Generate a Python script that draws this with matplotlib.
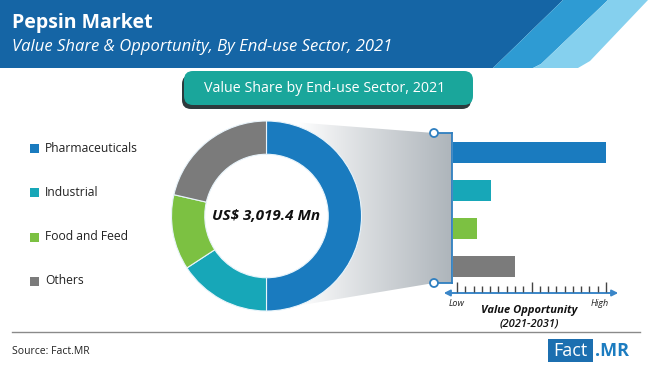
import numpy as np
import matplotlib
matplotlib.use("Agg")
import matplotlib.pyplot as plt
from matplotlib.patches import Polygon, Rectangle, Circle, FancyBboxPatch, FancyArrowPatch

# ---------------- data ----------------
categories = ["Pharmaceuticals", "Industrial", "Food and Feed", "Others"]
share_values = [50.0, 15.8, 12.8, 21.4]          # value share (%) 2021
opportunity_values = [10.0, 2.5, 1.6, 4.1]        # relative value opportunity (low..high scale 0-10)
colors = ["#1a7bbf", "#17a7b8", "#7cc142", "#7b7b7b"]
title = "Pepsin Market"
subtitle = "Value Share & Opportunity, By End-use Sector, 2021"
banner = "Value Share by End-use Sector, 2021"
center_label = "US$ 3,019.4 Mn"
source = "Source: Fact.MR"

W, H = 650, 366
fig = plt.figure(figsize=(6.5, 3.66), dpi=100)
fig.patch.set_facecolor("white")
FONT = "Open Sans"

# overlay axes in pixel coordinates
ax = fig.add_axes([0, 0, 1, 1])
ax.set_xlim(0, W)
ax.set_ylim(H, 0)
ax.set_autoscale_on(False)
ax.axis("off")

# header
ax.add_patch(Polygon([(0, 0), (563, 0), (493, 68), (0, 68)], closed=True, fc="#1565a5", ec="none"))
ax.add_patch(Polygon([(563, 0), (608, 0), (541, 64), (533, 68), (493, 68)], closed=True, fc="#2e9bd3", ec="none"))
ax.add_patch(Polygon([(608, 0), (648, 0), (590, 61), (578, 68), (533, 68), (541, 64)], closed=True, fc="#85d0ee", ec="none"))
ax.text(12, 23, title, color="white", fontsize=14, fontweight="bold", family=FONT, va="center", ha="left")
ax.text(12, 47, subtitle, color="white", fontsize=12, style="italic", family=FONT, va="center", ha="left")

# banner
ax.add_patch(FancyBboxPatch((182, 75), 289, 34, boxstyle="round,pad=0,rounding_size=9",
                            fc="#2d3a3d", ec="none"))
ax.add_patch(FancyBboxPatch((184, 71), 289, 34, boxstyle="round,pad=0,rounding_size=9",
                            fc="#1aa69b", ec="none"))
ax.text(325, 88.5, banner, color="white", fontsize=10.3, family=FONT, va="center", ha="center")

# gradient connector
poly_pts = [(266, 120), (434, 133), (452, 133), (452, 283), (434, 283), (266, 311)]
poly = Polygon(poly_pts, closed=True, fc="none", ec="none")
ax.add_patch(poly)
grad = np.linspace(0, 1, 256).reshape(1, -1)
grad = np.clip((grad - 0.18) / 0.82, 0, 1) ** 0.9
c0 = np.array([1.0, 1.0, 1.0])
c1 = np.array([0xae, 0xb5, 0xbb]) / 255.0
img = c0[None, None, :] * (1 - grad[..., None]) + c1[None, None, :] * grad[..., None]
im = ax.imshow(img, extent=[266, 452, 311, 120], aspect="auto", zorder=1)
im.set_clip_path(poly)
ax.set_xlim(0, W)
ax.set_ylim(H, 0)

# bracket
bc = "#2f7fc0"
ax.plot([452, 452], [133, 283], color=bc, lw=1.3, zorder=3)
ax.plot([438, 452], [133, 133], color=bc, lw=1.3, zorder=3)
ax.plot([438, 452], [283, 283], color=bc, lw=1.3, zorder=3)
for yy in (133, 283):
    ax.add_patch(Circle((434, yy), 4, fc="white", ec=bc, lw=1.3, zorder=4))

# opportunity axis (arrow + ticks)
ax.add_patch(FancyArrowPatch((441, 293), (621, 293), arrowstyle="<|-|>", mutation_scale=9,
                             color="#3a86c8", lw=1.4, zorder=3))
tick_x = np.linspace(457, 606, 19)
major = [tick_x[0], tick_x[9], tick_x[18]]
minor = [t for i, t in enumerate(tick_x) if i not in (0, 9, 18)]
ax.vlines(major, 282, 292, colors="#444444", lw=1.0, zorder=6)
ax.vlines(minor, 286, 292, colors="#444444", lw=1.0, zorder=6)
ax.text(457, 303, "Low", fontsize=6.5, style="italic", family=FONT, ha="center", va="center", color="#222222")
ax.text(600, 303, "High", fontsize=6.5, style="italic", family=FONT, ha="center", va="center", color="#222222")
ax.text(529, 311, "Value Opportunity", fontsize=8, style="italic", fontweight="bold", family=FONT,
        ha="center", va="center", color="#111111")
ax.text(529, 324, "(2021-2031)", fontsize=8, style="italic", fontweight="semibold", family=FONT,
        ha="center", va="center", color="#111111")

# legend
leg_y = [148, 192, 237, 281]
for name, col, yy in zip(categories, colors, leg_y):
    ax.add_patch(Rectangle((30, yy - 4.5), 9, 9, fc=col, ec="none"))
    ax.text(45, yy, name, fontsize=8.7, family=FONT, va="center", ha="left", color="#222222")

# footer
ax.plot([12, 640], [332, 332], color="#8a8a8a", lw=1)
ax.text(12, 351, source, fontsize=7.5, family=FONT, va="center", ha="left", color="#222222")
ax.add_patch(Rectangle((548, 339), 45, 23, fc="#1c6fb0", ec="none"))
ax.text(570.5, 350.5, "Fact", fontsize=13, family=FONT, color="white", ha="center", va="center")
ax.text(595, 350.5, ".MR", fontsize=13, family=FONT, fontweight="bold", color="#1c7cc0", ha="left", va="center")

# donut
cx, cy, R = 266.5, 216, 95
axp = fig.add_axes([(cx - R) / W, 1 - (cy + R) / H, 2 * R / W, 2 * R / H])
axp.pie(share_values, colors=colors, startangle=90, counterclock=False, radius=1,
        wedgeprops=dict(width=0.35, edgecolor="#e8f4fb", linewidth=0.8))
axp.add_patch(Circle((0, 0), 0.65, fc="white", ec="none", zorder=0))
axp.set_xlim(-1, 1)
axp.set_ylim(-1, 1)
axp.set_aspect("equal")
axp.axis("off")
axp.text(0, 0, center_label, fontsize=11, fontweight="bold", style="italic", family=FONT,
         ha="center", va="center", color="#111111")

# opportunity bars
x0, x1 = 452.5, 606
y_top, y_bot = 133.5, 285.5
axb = fig.add_axes([x0 / W, 1 - y_bot / H, (x1 - x0) / W, (y_bot - y_top) / H])
axb.patch.set_alpha(0)
ypos = np.arange(len(categories))
axb.barh(ypos, opportunity_values, height=0.57, color=colors)
axb.set_xlim(0, 10)
axb.set_ylim(3.5, -0.5)
axb.axis("off")

fig.savefig("out.png", dpi=100, facecolor="white")
